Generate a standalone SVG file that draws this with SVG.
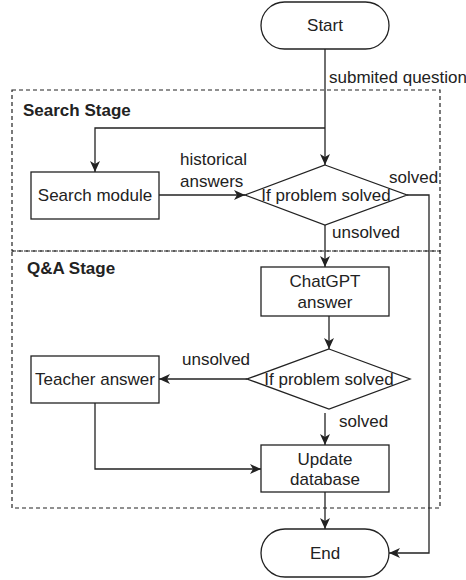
<svg xmlns="http://www.w3.org/2000/svg" width="466" height="580" viewBox="0 0 466 580">
<defs>
<style>
.box{fill:#fff;stroke:#222;stroke-width:1.3}
.stage{fill:none;stroke:#222;stroke-width:1.2;stroke-dasharray:4 3}
.ln{fill:none;stroke:#222;stroke-width:1.3}
text{font-family:"Liberation Sans",Arial,sans-serif;font-size:17px;fill:#222}
.c{text-anchor:middle}
.b{font-weight:bold}
</style>
<marker id="ah" markerWidth="12" markerHeight="12" viewBox="0 0 12 12" refX="11" refY="6" orient="auto" markerUnits="userSpaceOnUse">
<path d="M0,1 L11,6 L0,11 L3,6 Z" fill="#222"/>
</marker>
</defs>
<g id="stages">
<rect class="stage" x="12" y="90" width="428" height="161"/>
<rect class="stage" x="12" y="251" width="428" height="257"/>
<text class="b" x="23" y="116">Search Stage</text>
<text class="b" x="27" y="274">Q&amp;A Stage</text>
</g>
<g id="connectors">
<path class="ln" d="M325,49 V165" marker-end="url(#ah)"/>
<path class="ln" d="M325,128 H95 V172" marker-end="url(#ah)"/>
<path class="ln" d="M159,195 H245" marker-end="url(#ah)"/>
<path class="ln" d="M407,195 H429 V553 H389" marker-end="url(#ah)"/>
<path class="ln" d="M325,225 V267" marker-end="url(#ah)"/>
<path class="ln" d="M329,316 V349" marker-end="url(#ah)"/>
<path class="ln" d="M247,379 H159" marker-end="url(#ah)"/>
<path class="ln" d="M325,413 V445" marker-end="url(#ah)"/>
<path class="ln" d="M95,403 V469 H261" marker-end="url(#ah)"/>
<path class="ln" d="M325,492 V529" marker-end="url(#ah)"/>
<text x="329" y="83">submited question</text>
<text x="180" y="165">historical</text>
<text x="180" y="187">answers</text>
<text x="389" y="183">solved</text>
<text x="332" y="238">unsolved</text>
<text x="182" y="365">unsolved</text>
<text x="339" y="427">solved</text>
</g>
<g id="start">
<rect class="box" x="261" y="2" width="128" height="47" rx="23.5"/>
<text class="c" x="325" y="31">Start</text>
</g>
<g id="search-module">
<rect class="box" x="31" y="172" width="128" height="47"/>
<text class="c" x="95" y="201">Search module</text>
</g>
<g id="decision1">
<polygon class="box" points="325,165 407,195 325,225 245,195"/>
<text class="c" x="326" y="201">If problem solved</text>
</g>
<g id="chatgpt">
<rect class="box" x="261" y="267" width="128" height="49"/>
<text class="c" x="325" y="287">ChatGPT</text>
<text class="c" x="325" y="308">answer</text>
</g>
<g id="decision2">
<polygon class="box" points="329,349 410,379 329,409 247,379"/>
<text class="c" x="329" y="385">If problem solved</text>
</g>
<g id="teacher">
<rect class="box" x="31" y="356" width="128" height="47"/>
<text class="c" x="95" y="385">Teacher answer</text>
</g>
<g id="update">
<rect class="box" x="261" y="445" width="128" height="47"/>
<text class="c" x="325" y="465">Update</text>
<text class="c" x="325" y="485">database</text>
</g>
<g id="end">
<rect class="box" x="261" y="529" width="128" height="48" rx="24"/>
<text class="c" x="325" y="559">End</text>
</g>
</svg>
